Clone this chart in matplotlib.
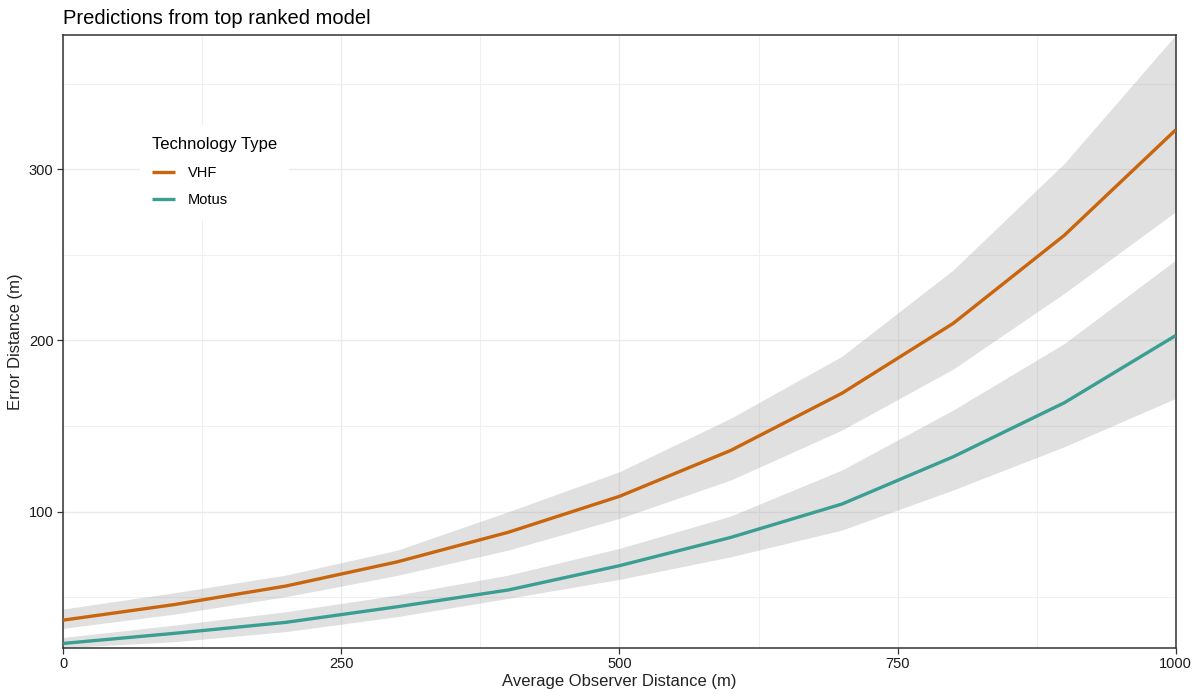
import matplotlib.pyplot as plt
import numpy as np

# values
obs_dist = [0, 100, 200, 300, 400, 500, 600, 700, 800, 900, 1000]

vhf_fit = [36.7, 45.8, 56.6, 70.7, 88.0, 109.0, 135.8, 169.2, 210.0, 261.5, 323.0]
vhf_lo = [31.9, 40.2, 50.4, 62.8, 77.6, 96.1, 118.5, 147.7, 183.3, 227.6, 275.2]
vhf_hi = [43.2, 52.7, 63.0, 77.5, 100.0, 123.4, 154.6, 190.8, 241.2, 303.5, 378.4]

motus_fit = [23.1, 29.0, 35.4, 44.5, 54.3, 68.5, 85.0, 104.5, 132.1, 163.7, 202.9]
motus_lo = [20.6, 24.1, 30.0, 38.7, 49.4, 60.5, 73.7, 89.3, 112.7, 138.0, 166.2]
motus_hi = [26.6, 33.8, 41.6, 51.3, 63.0, 78.6, 97.5, 124.4, 159.4, 198.3, 247.0]

series = ['VHF', 'Motus']
colors = {'VHF': '#C9650C', 'Motus': '#3A9E92'}

plt.rcParams['font.family'] = ['Liberation Sans', 'DejaVu Sans']

fig = plt.figure(figsize=(11.98, 7.0), dpi=100)
ax = fig.add_axes([0.0528, 0.0747, 0.9286, 0.8753])

x = np.array(obs_dist)
bands = {'VHF': (vhf_lo, vhf_hi, vhf_fit), 'Motus': (motus_lo, motus_hi, motus_fit)}
for name in series:
    lo, hi, fit = bands[name]
    ax.fill_between(x, lo, hi, color='#999999', alpha=0.3, lw=0, zorder=2)
for name in series:
    lo, hi, fit = bands[name]
    ax.plot(x, fit, color=colors[name], lw=2.4, label=name, zorder=3,
            solid_capstyle='butt')

ax.set_xlim(0, 1000)
ax.set_ylim(20.6, 378.4)
ax.set_xticks([0, 250, 500, 750, 1000])
ax.set_xticks([125, 375, 625, 875], minor=True)
ax.set_yticks([100, 200, 300])
ax.set_yticks([50, 150, 250, 350], minor=True)
ax.grid(which='major', color='#EBEBEB', lw=1.0, zorder=0)
ax.grid(which='minor', color='#F0F0F0', lw=0.8, zorder=0)
ax.set_axisbelow(True)
ax.tick_params(which='major', direction='out', length=4, width=0.9,
               color='#333333', labelsize=10.5, labelcolor='#1a1a1a', pad=3)
ax.tick_params(which='minor', length=0)
for sp in ax.spines.values():
    sp.set_color('#333333')
    sp.set_linewidth(1.1)

ax.set_xlabel('Average Observer Distance (m)', fontsize=12, color='#222222', labelpad=2)
ax.set_ylabel('Error Distance (m)', fontsize=12, color='#222222', labelpad=4)
ax.set_title('Predictions from top ranked model', fontsize=14.5, loc='left',
             x=0.0, pad=8, color='black')

leg = ax.legend(title='Technology Type', loc='upper left',
                bbox_to_anchor=(0.069, 0.852), frameon=True, fontsize=10.5,
                title_fontsize=12, handlelength=1.6, handletextpad=0.9,
                labelspacing=0.85, borderpad=0.8, borderaxespad=0)
leg.get_frame().set_facecolor('white')
leg.get_frame().set_edgecolor('white')
leg.get_frame().set_alpha(1)
leg.get_frame().set_boxstyle('square', pad=0)
leg._legend_box.align = 'left'
leg._legend_box.sep = 10

fig.savefig('out.png', dpi=100)
